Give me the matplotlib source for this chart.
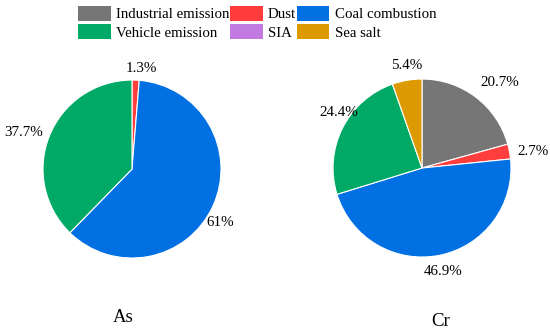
import matplotlib
matplotlib.use("Agg")
import matplotlib.pyplot as plt
from matplotlib.patches import Patch
import numpy as np

plt.rcParams['font.family'] = ['Liberation Serif', 'DejaVu Serif']

categories = ["Industrial emission", "Dust", "Coal combustion",
              "Vehicle emission", "SIA", "Sea salt"]
colors = {"Industrial emission": "#767676", "Dust": "#FF3D3D",
          "Coal combustion": "#0070E3", "Vehicle emission": "#00AA66",
          "SIA": "#C07AE0", "Sea salt": "#DD9900"}

as_labels = ["Dust", "Coal combustion", "Vehicle emission"]
as_values = [1.3, 61.0, 37.7]
as_text = ["1.3%", "61%", "37.7%"]

cr_labels = ["Industrial emission", "Dust", "Coal combustion", "Vehicle emission", "Sea salt"]
cr_values = [20.7, 2.7, 46.9, 24.4, 5.4]
cr_text = ["20.7%", "2.7%", "46.9%", "24.4%", "5.4%"]

fig = plt.figure(figsize=(5.5, 3.36), dpi=100)

def draw(rect, labels, values, texts, name, name_xy, label_dist, label_off):
    ax = fig.add_axes(rect)
    ax.pie(values, colors=[colors[l] for l in labels], startangle=90,
           counterclock=False,
           wedgeprops=dict(edgecolor="white", linewidth=0.8))
    tot = sum(values)
    ang = 90.0
    for v, t, d, o in zip(values, texts, label_dist, label_off):
        span = v / tot * 360
        mid = np.deg2rad(ang - span / 2 + o)
        ax.text(d * np.cos(mid), d * np.sin(mid), t, ha="center", va="center",
                fontsize=10.8)
        ang -= span
    ax.set_xlim(-1, 1)
    ax.set_ylim(-1, 1)
    ax.set_aspect("equal")
    fig.text(name_xy[0], name_xy[1], name, fontsize=13.5, ha="center", va="center")
    return ax

draw([0.0782, 0.232, 0.3236, 0.5298], as_labels, as_values, as_text, "As",
     (123.5 / 550, 1 - 317 / 336), [1.14, 1.16, 1.29], [-3, -7, 3.5])
draw([0.6055, 0.235, 0.3236, 0.5298], cr_labels, cr_values, cr_text, "Cr",
     (441 / 550, 1 - 321 / 336), [1.30, 1.26, 1.19, 1.12, 1.17], [-5, -2.4, 0, -7, -1])

order = ["Industrial emission", "Vehicle emission", "Dust", "SIA",
         "Coal combustion", "Sea salt"]
handles = [Patch(facecolor=colors[c], edgecolor="none") for c in order]
fig.legend(handles, order, loc="upper left", ncol=3, frameon=False,
           bbox_to_anchor=(78 / 550, 1 - 6 / 336), fontsize=10.7, handlelength=2.2,
           handleheight=1.15, handletextpad=0.35, columnspacing=0.05,
           labelspacing=0.2, borderaxespad=0.0, borderpad=0.0)

fig.savefig("out.png", dpi=100)
